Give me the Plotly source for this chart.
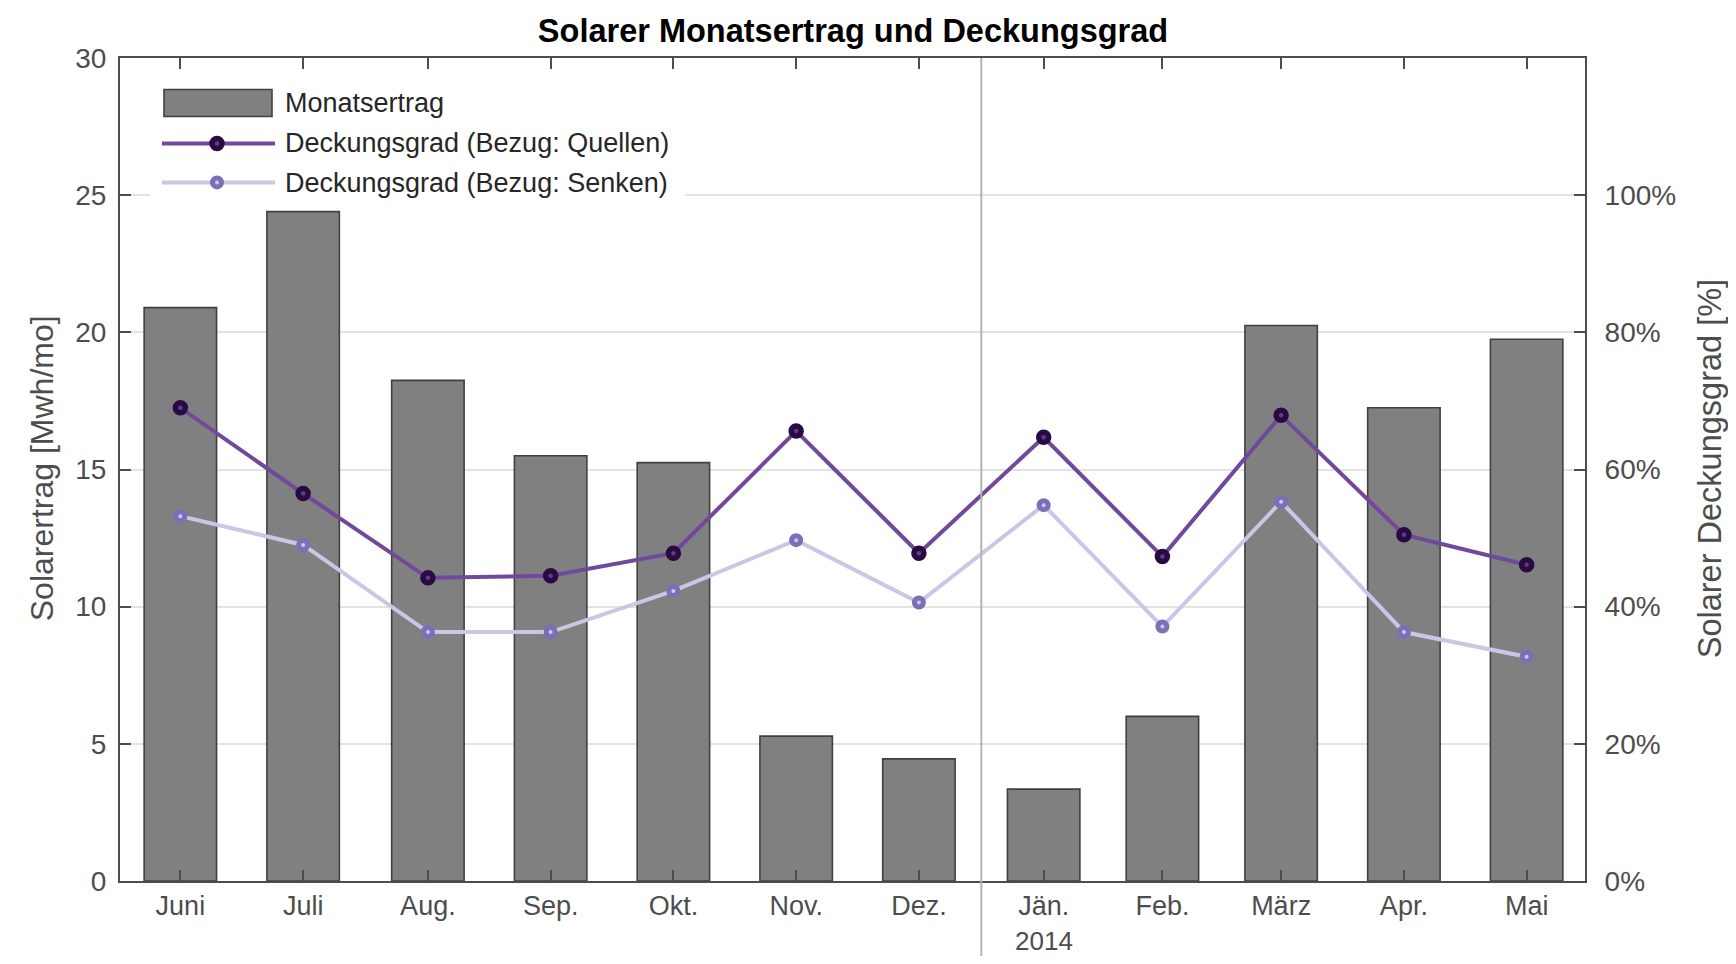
import plotly.graph_objects as go

months = ["Juni", "Juli", "Aug.", "Sep.", "Okt.", "Nov.", "Dez.",
          "Jän.", "Feb.", "März", "Apr.", "Mai"]
month_mid = ["2013-06-16", "2013-07-16 12:00", "2013-08-16 12:00", "2013-09-16",
             "2013-10-16 12:00", "2013-11-16", "2013-12-16 12:00", "2014-01-16 12:00",
             "2014-02-15", "2014-03-16 12:00", "2014-04-16", "2014-05-16 12:00"]
ertrag = [20.9, 24.4, 18.25, 15.5, 15.25, 5.28, 4.45, 3.35, 6.0, 20.25, 17.25, 19.75]
quellen = [69.0, 56.5, 44.2, 44.5, 47.8, 65.6, 47.8, 64.7, 47.3, 67.9, 50.5, 46.1]
senken = [53.2, 49.0, 36.3, 36.3, 42.3, 49.7, 40.6, 54.8, 37.1, 55.3, 36.3, 32.7]
right_ticks = [0, 20, 40, 60, 80, 100]
right_labels = ["0%", "20%", "40%", "60%", "80%", "100%"]
left_ticks = [0, 5, 10, 15, 20, 25, 30]
x_range = ["2013-06-01", "2014-05-31"]
year_start = "2014-01-01"
year_label = "2014"

names = ["Monatsertrag", "Deckungsgrad (Bezug: Quellen)", "Deckungsgrad (Bezug: Senken)"]

BAR_FILL = "#808080"
BAR_EDGE = "#404040"
Q_LINE = "#71499b"
Q_MARK = "#2a0a42"
Q_MARK_FILL = "#5e3f86"
S_LINE = "#cdc5e6"
S_MARK = "#7b6fb7"
S_MARK_FILL = "#cfc8ec"
TXT = "#4d4d4d"
FONT = "Liberation Sans, Arial, sans-serif"
DAY_MS = 86400000

# page body has an 8px margin: work in full-window pixel coords and offset
OFF = 8
W, H = 1720, 948
PL, PR, PT, PB = 120, 1585, 57.5, 881   # plot box in window pixels
L, T = PL - OFF, PT - OFF
R = W - (PR - OFF)
B = H - (PB - OFF)
PW, PH = PR - PL, PB - PT


def px(x):
    return (x - PL) / PW


def py(y):
    return (PB - y) / PH


fig = go.Figure()
fig.add_trace(go.Bar(
    x=month_mid, y=ertrag, name=names[0], width=18 * DAY_MS,
    marker=dict(color=BAR_FILL, line=dict(color=BAR_EDGE, width=1.6)),
    showlegend=False,
))
fig.add_trace(go.Scatter(
    x=month_mid, y=quellen, name=names[1], yaxis="y2", mode="lines+markers",
    line=dict(color=Q_LINE, width=4),
    marker=dict(symbol="circle", size=10, color=Q_MARK_FILL, line=dict(color=Q_MARK, width=5.5)),
    showlegend=False,
))
fig.add_trace(go.Scatter(
    x=month_mid, y=senken, name=names[2], yaxis="y2", mode="lines+markers",
    line=dict(color=S_LINE, width=4),
    marker=dict(symbol="circle", size=9, color=S_MARK_FILL, line=dict(color=S_MARK, width=5)),
    showlegend=False,
))

shapes = []
# year separator line
shapes.append(dict(type="line", xref="x", yref="paper", x0=year_start, x1=year_start,
                   y0=py(H + OFF + 2), y1=1,
                   line=dict(color="#b3b3b3", width=2), layer="above"))

# custom legend (MATLAB-style)
shapes.append(dict(type="rect", xref="paper", yref="paper",
                   x0=px(150), x1=px(685), y0=py(200), y1=py(72),
                   fillcolor="white", line=dict(width=0), layer="above"))
shapes.append(dict(type="rect", xref="paper", yref="paper",
                   x0=px(164), x1=px(272), y0=py(116), y1=py(89),
                   fillcolor=BAR_FILL, line=dict(color=BAR_EDGE, width=1.6), layer="above"))
for yy, lc, mc, mf, r, lw in [(143, Q_LINE, Q_MARK, Q_MARK_FILL, 5, 5.5),
                              (182, S_LINE, S_MARK, S_MARK_FILL, 4.5, 5)]:
    shapes.append(dict(type="line", xref="paper", yref="paper",
                       x0=px(162), x1=px(275), y0=py(yy), y1=py(yy),
                       line=dict(color=lc, width=4), layer="above"))
    shapes.append(dict(type="circle", xref="paper", yref="paper",
                       xsizemode="pixel", ysizemode="pixel",
                       xanchor=px(217), yanchor=py(yy),
                       x0=-r, x1=r, y0=-r, y1=r,
                       fillcolor=mf, line=dict(color=mc, width=lw), layer="above"))

annotations = []
for yy, nm in zip([103, 143, 183], names):
    annotations.append(dict(xref="paper", yref="paper", x=px(283), y=py(yy),
                            xanchor="left", yanchor="middle", text=nm, showarrow=False,
                            font=dict(family=FONT, size=27, color="#262626")))
annotations.append(dict(xref="x", yref="paper", x=month_mid[months.index("Jän.")], y=py(941),
                        text=year_label, showarrow=False, xanchor="center", yanchor="middle",
                        font=dict(family=FONT, size=26, color=TXT)))
annotations.append(dict(xref="paper", yref="paper", x=px(42), y=py(468), text="Solarertrag [Mwh/mo]",
                        textangle=-90, showarrow=False, xanchor="center", yanchor="middle",
                        font=dict(family=FONT, size=32, color=TXT)))
annotations.append(dict(xref="paper", yref="paper", x=px(1710), y=py(469),
                        text="Solarer Deckungsgrad [%]",
                        textangle=-90, showarrow=False, xanchor="center", yanchor="middle",
                        font=dict(family=FONT, size=32.5, color=TXT)))

fig.update_layout(
    width=W, height=H,
    margin=dict(l=L, r=R, t=T, b=B, autoexpand=False),
    paper_bgcolor="white", plot_bgcolor="white",
    font=dict(family=FONT, size=27, color=TXT),
    title=dict(text="<b>Solarer Monatsertrag und Deckungsgrad</b>", x=px(853), xref="paper",
               xanchor="center", y=1 - (31 - OFF) / H, yanchor="middle",
               font=dict(family=FONT, size=32.5, color="#000000")),
    showlegend=False,
    xaxis=dict(type="date", range=x_range, tickmode="array", tickvals=month_mid, ticktext=months,
               showline=True, linecolor="#4d4d4d", linewidth=2, mirror="ticks",
               ticks="inside", ticklen=11, tickwidth=1.5, tickcolor="#4d4d4d",
               showgrid=False, zeroline=False, ticklabelstandoff=0,
               tickfont=dict(family=FONT, size=27, color=TXT)),
    yaxis=dict(range=[0, 30], tickvals=left_ticks, showline=True, linecolor="#4d4d4d", linewidth=2,
               ticks="inside", ticklen=11, tickwidth=1.5, tickcolor="#4d4d4d",
               showgrid=True, gridcolor="#e3e3e3", gridwidth=2, zeroline=False,
               ticklabelstandoff=6, tickfont=dict(family=FONT, size=28, color=TXT)),
    yaxis2=dict(range=[0, 120], tickmode="array", tickvals=right_ticks, ticktext=right_labels,
                overlaying="y", side="right",
                showline=True, linecolor="#4d4d4d", linewidth=2,
                ticks="inside", ticklen=11, tickwidth=1.5, tickcolor="#4d4d4d",
                showgrid=False, zeroline=False, ticklabelstandoff=12,
                tickfont=dict(family=FONT, size=28, color=TXT)),
    shapes=shapes,
    annotations=annotations,
)

fig.write_html("out.html")
